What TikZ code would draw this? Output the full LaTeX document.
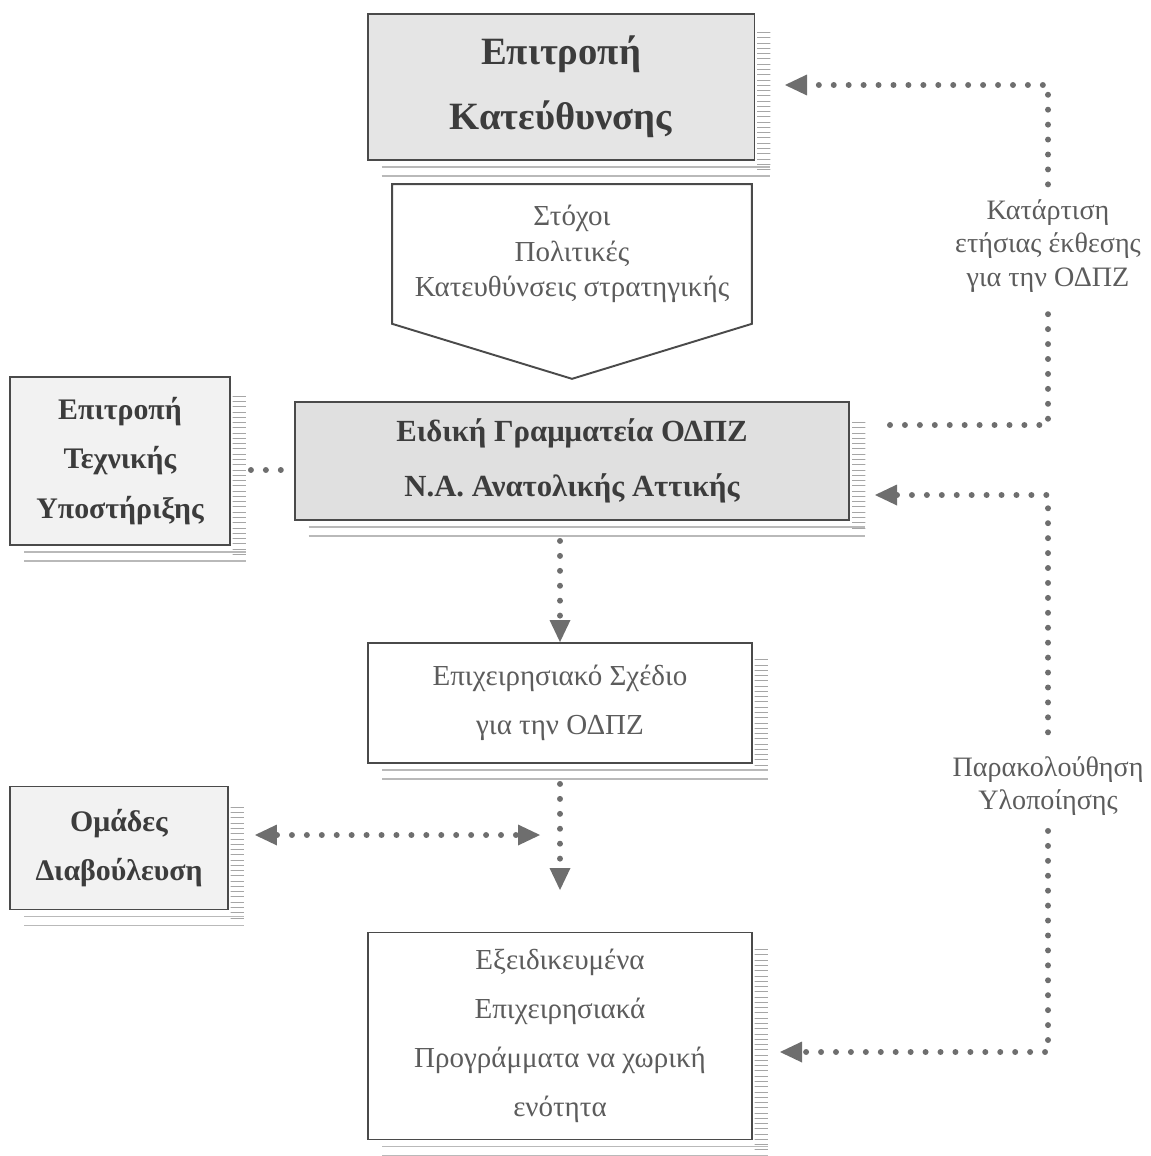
\documentclass[tikz,border=0pt]{standalone}
\usepackage{fontspec}
\setmainfont{Liberation Serif}
\usepackage[dvipsnames]{xcolor}
\usetikzlibrary{arrows.meta,patterns}

\definecolor{boxline}{HTML}{4A4A4A}
\definecolor{dotgrey}{HTML}{6E6E6E}
\definecolor{inkdark}{HTML}{3C3C3C}
\definecolor{inklight}{HTML}{5C5C5C}

\newcommand{\boxshadow}[1]{%
  \fill[pattern=horizontal lines,pattern color=gray!70] ([xshift=1pt,yshift=-0.35cm]#1.north east) rectangle ([xshift=0.3cm,yshift=-0.2cm]#1.south east);
  \draw[gray!55,line width=1pt] ([xshift=0.3cm,yshift=-0.12cm]#1.south west) -- ([xshift=0.3cm,yshift=-0.12cm]#1.south east);
  \draw[gray!55,line width=1pt] ([xshift=0.3cm,yshift=-0.3cm]#1.south west) -- ([xshift=0.3cm,yshift=-0.3cm]#1.south east);
}

\begin{document}
\begin{tikzpicture}[x=0.02cm,y=-0.02cm,>={Triangle[length=0.44cm,width=0.42cm,line width=0pt]},main node/.style={draw=boxline,line width=1.1pt,align=center,text=inkdark},plain node/.style={draw=boxline,line width=1.1pt,fill=white,align=center,text=inklight,font=\fontsize{16.5}{28}\selectfont},label node/.style={fill=white,align=center,text=inklight,inner sep=0.3cm,font=\fontsize{16}{19}\selectfont},dot line/.style={dotgrey,line width=3.4pt,line cap=round,dash pattern=on 0pt off 8.5pt}]
            \useasboundingbox (0,0) rectangle (1150,1156);

            \node[main node,fill=gray!20,minimum width=7.74cm,minimum height=2.92cm,font=\bfseries\fontsize{22}{37}\selectfont] (1) at (561,87) {Επιτροπή\\Κατεύθυνσης};
            \node[align=center,text=inklight,minimum width=7.18cm,minimum height=2.78cm,font=\fontsize{16.5}{20}\selectfont] (2) at (572,254) {Στόχοι\\Πολιτικές\\Κατευθύνσεις στρατηγικής};
            \node[main node,fill=gray!24,minimum width=11.1cm,minimum height=2.36cm,font=\bfseries\fontsize{17.5}{31}\selectfont] (3) at (572,461) {Ειδική Γραμματεία ΟΔΠΖ\\Ν.Α. Ανατολικής Αττικής};
            \node[main node,fill=gray!10,minimum width=4.4cm,minimum height=3.36cm,font=\bfseries\fontsize{17}{28}\selectfont] (4) at (120,461) {Επιτροπή\\Τεχνικής\\Υποστήριξης};
            \node[plain node,minimum width=7.68cm,minimum height=2.4cm] (5) at (560,703) {Επιχειρησιακό Σχέδιο\\για την ΟΔΠΖ};
            \node[main node,fill=gray!10,minimum width=4.36cm,minimum height=2.46cm,font=\bfseries\fontsize{17}{28}\selectfont] (6) at (119,848) {Ομάδες\\Διαβούλευση};
            \node[plain node,minimum width=7.68cm,minimum height=4.14cm] (7) at (560,1036) {Εξειδικευμένα\\Επιχειρησιακά\\Προγράμματα να χωρική\\ενότητα};

            \node[label node] (8) at (1048,246) {Κατάρτιση\\ετήσιας έκθεσης\\για την ΟΔΠΖ};
            \node[label node] (9) at (1048,786) {Παρακολούθηση\\Υλοποίησης};

            \draw[boxline,line width=1.1pt] (2.north west) -- (2.north east) -- (2.south east) -- ([yshift=-1.1cm]2.south) -- (2.south west) -- cycle;

            \boxshadow{1}
            \boxshadow{3}
            \boxshadow{4}
            \boxshadow{5}
            \boxshadow{6}
            \boxshadow{7}

            \coordinate (a) at (560,890);
            \coordinate (b) at (255,835);
            \coordinate (c) at (540,835);
            \coordinate (d) at (890,425);
            \coordinate (e) at (1048,425);
            \coordinate (f) at (1048,85);
            \coordinate (g) at (785,85);
            \coordinate (h) at (875,495);
            \coordinate (i) at (1048,495);
            \coordinate (j) at (1048,1052);
            \coordinate (k) at (780,1052);

            \draw[dot line,shorten <=0.4cm,shorten >=0.2cm] ([yshift=-0.18cm]4.east) -- ([yshift=-0.18cm]3.west);
            \draw[dot line,->,shorten <=0.4cm] (3.south -| 5.north) -- (5.north);
            \draw[dot line,->,shorten <=0.4cm] (5.south) -- (a);
            \draw[dot line,<->] (b) -- (c);
            \draw[dot line] (d) -- (e) -- (8);
            \draw[dot line,->] (8) -- (f) -- (g);
            \draw[dot line,<-] (h) -- (i) -- (9);
            \draw[dot line,->] (9) -- (j) -- (k);
        \end{tikzpicture}
\end{document}
